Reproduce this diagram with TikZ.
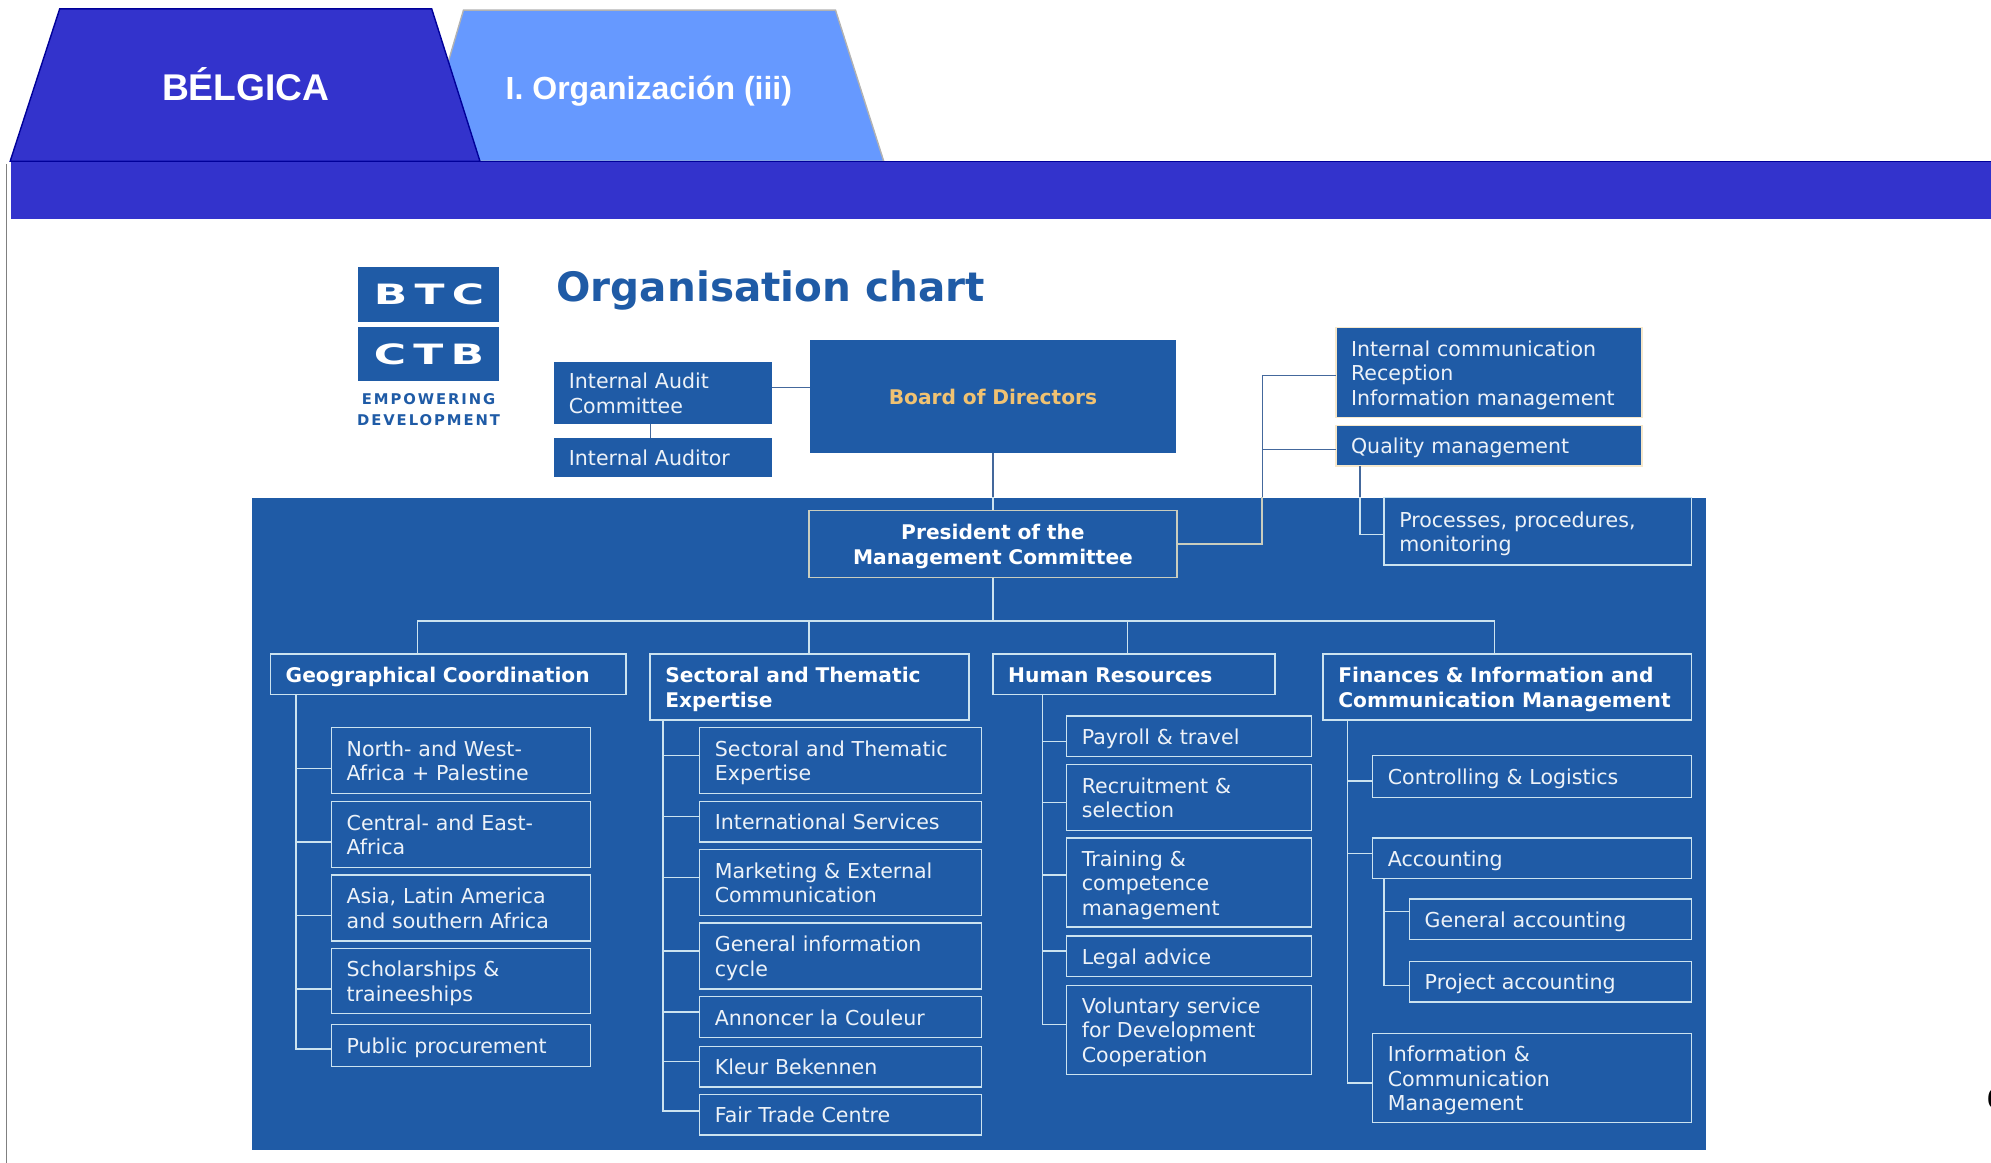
\documentclass[tikz,border=0pt]{standalone}
\usepackage{fontspec}
\setmainfont{DejaVu Sans}
\newfontfamily\tabfont{Liberation Sans}
\newfontfamily\logofont[LetterSpace=13]{DejaVu Sans}
\usetikzlibrary{calc}
\definecolor{barblue}{HTML}{3333CC}
\definecolor{tabblue}{HTML}{6699FF}
\definecolor{btcblue}{HTML}{1F5BA6}
\definecolor{pale}{HTML}{CBE3F0}
\definecolor{tan}{HTML}{C9CDBE}
\definecolor{cream}{HTML}{F6E8CC}
\definecolor{gold}{HTML}{F0C272}
\definecolor{slate}{HTML}{44689C}
\def\pxu{.63489pt}
\newcommand\boxtop{\rule{0pt}{11pt}}
\newcommand\boxbot{\rule[-3pt]{0pt}{3pt}}

\begin{document}
\begin{tikzpicture}[x=\pxu,y=-\pxu,
    box/.style n args={2}{anchor=north west,minimum width=#1*\pxu,minimum height=#2*\pxu,
      text width=(#1-24)*\pxu,inner xsep=12*\pxu,inner ysep=0pt,outer sep=0pt,align=left,
      draw=pale,line width=.7pt,fill=btcblue,text=white!92!btcblue,
      execute at begin node=\boxtop,execute at end node=\boxbot,
      font=\fontsize{10.28}{12.25}\selectfont},
    head/.style={font=\bfseries\fontsize{10.1}{12.25}\selectfont,text=white},
    top/.style={draw=none},
    link/.style={line width=.7pt,draw=pale},
    darklink/.style={line width=.6pt,draw=slate},
    tab/.style={font=\tabfont\bfseries,text=white}]
  \useasboundingbox (0,0) rectangle (1568,915.9);

  % tabs and bar
  \draw[line width=.7pt,fill=tabblue,draw=black!30] (365,8) coordinate (tabb) -- (658,8) -- (696,127) -- (330,127) -- cycle;
  \draw[line width=.7pt,fill=barblue,draw=blue!60!black] (47,7) coordinate (taba) -- (340,7) -- (378,127) -- (8,127) -- cycle;
  \node[anchor=north west,minimum width=1560*\pxu,minimum height=45*\pxu,inner sep=0pt,fill=barblue] (bar) at (8,127) {};
  \draw[line width=.7pt,draw=blue!60!black] (bar.north west) -- (bar.north east);
  \draw[line width=.5pt,draw=black!50] (5,129) coordinate (edge) -- (5,915.9);
  \node[tab,font=\tabfont\bfseries\fontsize{18.6}{20}\selectfont] (belgica) at (193.5,66) {BÉLGICA};
  \node[tab,font=\tabfont\bfseries\fontsize{16}{20}\selectfont] (organizacion) at (511,72) {I. Organización (iii)};
  \node[anchor=west,inner sep=0pt,font=\tabfont\bfseries\fontsize{14}{16}\selectfont] (pagenum) at (1564.8,865) {6};

  % logo
  \node[anchor=north west,minimum width=111*\pxu,minimum height=43*\pxu,inner sep=0pt,fill=btcblue] (btc) at (282,210) {};
  \node[anchor=north west,minimum width=111*\pxu,minimum height=43*\pxu,inner sep=0pt,fill=btcblue] (ctb) at (282,257) {};
  \node[text=white,font=\logofont\bfseries\fontsize{14}{16}\selectfont,xscale=1.57,transform shape] (btctext) at (btc) {B\,T\,C};
  \node[text=white,font=\logofont\bfseries\fontsize{14}{16}\selectfont,xscale=1.57,transform shape] (ctbtext) at (ctb) {C\,T\,B};
  \node[text=btcblue,font=\logofont\bfseries\fontsize{7.4}{10.2}\selectfont,align=center,inner sep=0pt] (empower) at (337.5,322.5) {EMPOWERING\\DEVELOPMENT};
  \node[anchor=west,inner sep=0pt,text=btcblue,font=\bfseries\fontsize{20.25}{24}\selectfont] (title) at (438,229) {Organisation chart};

  % panel
  \node[anchor=north west,minimum width=1145*\pxu,minimum height=513*\pxu,inner sep=0pt,fill=btcblue] (panel) at (198,392) {};

  % top of the chart
  \node[box={172}{49},top] (audit) at (436,285) {Internal Audit\\Committee};
  \node[box={172}{31},top] (auditor) at (436,345) {Internal Auditor};
  \node[box={288}{89},top,head,text=gold,align=center] (board) at (638,268) {Board of Directors};
  \node[box={241}{71},draw=cream] (intcom) at (1052,258) {Internal communication\\Reception\\Information management};
  \node[box={241}{32},draw=cream] (quality) at (1052,335) {Quality management};
  \node[box={242}{53}] (processes) at (1090,392) {Processes, procedures,\\monitoring};
  \node[box={290}{53},head,draw=tan,align=center] (president) at (637,402) {President of the\\Management Committee};

  % departments
  \node[box={280}{32},head] (geo) at (213,515) {Geographical Coordination};
  \node[box={251}{52},head] (sect) at (512,515) {Sectoral and Thematic\\Expertise};
  \node[box={222}{32},head] (hr) at (782,515) {Human Resources};
  \node[box={290}{52},head] (fin) at (1042,515) {Finances \& Information and\\Communication Management};

  \node[box={204}{52}] (north) at (261,573) {North- and West-\\Africa + Palestine};
  \node[box={204}{52}] (central) at (261,631) {Central- and East-\\Africa};
  \node[box={204}{52}] (asia) at (261,689) {Asia, Latin America\\and southern Africa};
  \node[box={204}{51}] (schol) at (261,747) {Scholarships \&\\traineeships};
  \node[box={204}{33}] (public) at (261,807) {Public procurement};

  \node[box={222}{52}] (sectexp) at (551,573) {Sectoral and Thematic\\Expertise};
  \node[box={222}{32}] (intl) at (551,631) {International Services};
  \node[box={222}{52}] (market) at (551,669) {Marketing \& External\\Communication};
  \node[box={222}{52}] (general) at (551,727) {General information\\cycle};
  \node[box={222}{32}] (annoncer) at (551,785) {Annoncer la Couleur};
  \node[box={222}{32}] (kleur) at (551,824) {Kleur Bekennen};
  \node[box={222}{32}] (fair) at (551,862) {Fair Trade Centre};

  \node[box={193}{32}] (payroll) at (840,564) {Payroll \& travel};
  \node[box={193}{52}] (recruit) at (840,602) {Recruitment \&\\selection};
  \node[box={193}{70}] (training) at (840,660) {Training \&\\competence\\management};
  \node[box={193}{32}] (legal) at (840,737) {Legal advice};
  \node[box={193}{70}] (volunt) at (840,776) {Voluntary service\\for Development\\Cooperation};

  \node[box={251}{33}] (control) at (1081,595) {Controlling \& Logistics};
  \node[box={251}{32}] (account) at (1081,660) {Accounting};
  \node[box={222}{32}] (genacc) at (1110,708) {General accounting};
  \node[box={222}{32}] (projacc) at (1110,757) {Project accounting};
  \node[box={251}{70}] (infocom) at (1081,814) {Information \&\\Communication\\Management};

  % links over the white part
  \draw[darklink] (audit.east |- 0,305) -- (board.west |- 0,305);
  \draw[darklink] (512,334) -- (512,345);
  \draw[darklink] (board.south) -- (president.north);
  \draw[darklink] (president.east) -| (994,296) -- (intcom.west |- 0,296);
  \draw[darklink] (994,354) -- (quality.west |- 0,354);
  \draw[darklink] (1071,367) |- (processes.west |- 0,421);

  % the same links inside the panel
  \begin{scope}
    \clip (panel.north west) rectangle (panel.south east);
    \draw[link] (board.south) -- (president.north);
    \draw[link,draw=tan] (president.east) -| (994,296);
    \draw[link] (1071,367) |- (processes.west |- 0,421);
  \end{scope}

  \draw[link] (president.south) -- (782,489);
  \draw[link] (329,515) -- (329,489) -- (1177,489) -- (1177,515);
  \draw[link] (637,489) -- (637,515);
  \draw[link] (888,489) -- (888,515);

  \draw[link] (233,547) -- (233,826) -- (public.west |- 0,826);
  \foreach \n/\y in {north/605,central/663,asia/721,schol/779}
    \draw[link] (233,\y) -- (\n.west |- 0,\y);

  \draw[link] (522,567) -- (522,875) -- (fair.west |- 0,875);
  \foreach \n/\y in {sectexp/595,intl/643,market/691,general/749,annoncer/797,kleur/836}
    \draw[link] (522,\y) -- (\n.west |- 0,\y);

  \draw[link] (821,547) -- (821,807) -- (volunt.west |- 0,807);
  \foreach \n/\y in {payroll/584,recruit/632,training/689,legal/749}
    \draw[link] (821,\y) -- (\n.west |- 0,\y);

  \draw[link] (1061,567) -- (1061,853) -- (infocom.west |- 0,853);
  \foreach \n/\y in {control/615,account/672}
    \draw[link] (1061,\y) -- (\n.west |- 0,\y);
  \draw[link] (1090,692) -- (1090,776) -- (projacc.west |- 0,776);
  \draw[link] (1090,718) -- (genacc.west |- 0,718);
\end{tikzpicture}
\end{document}
